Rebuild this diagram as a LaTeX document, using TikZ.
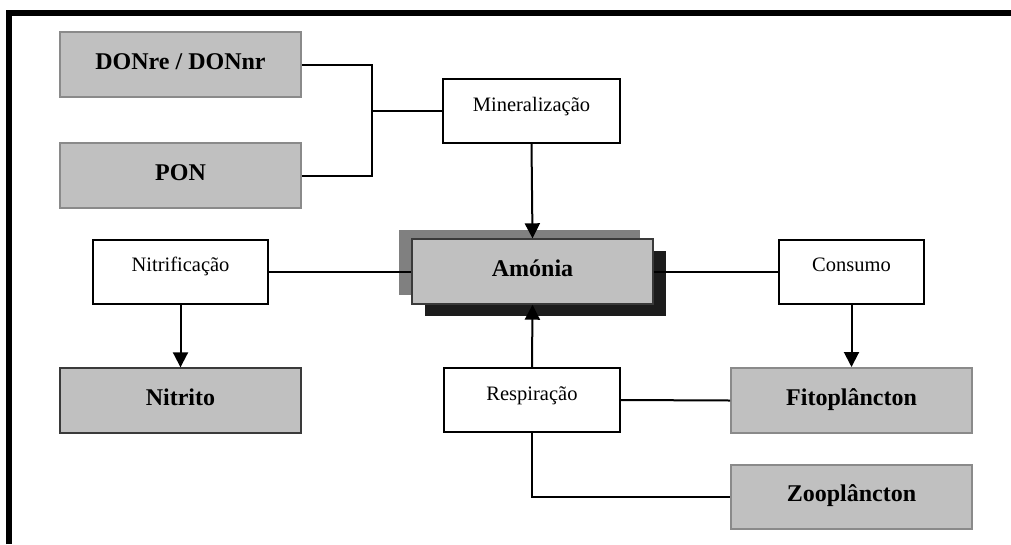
\documentclass[tikz,border=0pt]{standalone}
\usepackage{fontspec}
\setmainfont{Liberation Serif}
\usepackage{tikz}
\usetikzlibrary{arrows.meta,positioning,shadows}
\definecolor{cpool}{HTML}{C0C0C0}
\definecolor{cedge}{HTML}{8A8A8A}
\definecolor{cdark}{HTML}{3A3A3A}
\definecolor{cshadeA}{HTML}{808080}
\definecolor{cshadeB}{HTML}{1C1C1C}
\tikzset{
  pool/.style={draw=cedge, line width=2pt, fill=cpool, minimum width=241pt, minimum height=65pt,
    inner sep=0pt, text height=17pt, text depth=8pt, font=\fontsize{24}{27}\selectfont\bfseries},
  proc/.style={draw=black, line width=2pt, fill=white, minimum height=64pt,
    inner sep=0pt, text height=15pt, text depth=15pt, font=\fontsize{20.5}{24}\selectfont},
  link/.style={line width=2pt},
  ar/.style={link, -{Triangle[length=15pt, width=15pt]}},
}
\begin{document}
\begin{tikzpicture}[x=1pt, y=-1pt]
\useasboundingbox (0,0) rectangle (1011,544);
% frame
\draw[line width=6pt] (9,544) -- (9,13) -- (1011,13);
% organic sources
\node[pool] (don) at (180.5,64.5) {DONre / DONnr};
\node[pool] (pon) at (180.5,175.5) {PON};
\node[proc, minimum width=177pt] (mine) at (531.5,111) {Mineralização};
% ammonium
\node[pool, draw=cdark, line width=1.4pt,
  general shadow={fill=cshadeB, shadow xshift=13pt, shadow yshift=-12pt},
  general shadow={fill=cshadeA, shadow xshift=-13pt, shadow yshift=9pt}] (amon) at (532.5,271.5) {Amónia};
\node[proc, minimum width=175pt] (nitf) at (180.5,271.5) {Nitrificação};
\node[proc, minimum width=145pt] (cons) at (851.5,271.5) {Consumo};
% products and consumers
\node[pool, draw=cdark, line width=1.4pt] (nitr) at (180.5,400.5) {Nitrito};
\node[proc, minimum width=176pt] (resp) at (532,400) {Respiração};
\node[pool] (fito) at (851.5,400.5) {Fitoplâncton};
\node[pool, minimum height=64pt] (zoo) at (851.5,497) {Zooplâncton};
% connectors
\coordinate (jn) at (372,111);
\draw[link] (don.east) -| (jn) |- (pon.east);
\draw[link] (jn) -- (mine.west);
\draw[ar] (mine.south) -- (amon.north);
\draw[link] (nitf.east) -- (amon.west);
\draw[link] (amon.east) -- (cons.west);
\draw[ar] (nitf.south) -- (nitr.north);
\draw[ar] (cons.south) -- (fito.north);
\draw[ar] (resp.north) -- (amon.south);
\draw[link] (resp.east) -- (fito.west);
\draw[link] (resp.south) |- (zoo.west);
\end{tikzpicture}
\end{document}
